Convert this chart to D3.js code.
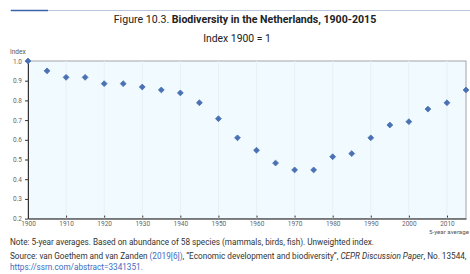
<!DOCTYPE html>
<html><head><meta charset="utf-8">
<script src="https://cdn.jsdelivr.net/npm/d3@7"></script>
<style>body{margin:0;background:#fff;}svg{display:block;font-family:Roboto, "Liberation Sans", sans-serif;}</style>
</head><body><svg id="c" width="470" height="274"></svg>
<script>
const years = [1900,1905,1910,1915,1920,1925,1930,1935,1940,1945,1950,1955,1960,1965,1970,1975,1980,1985,1990,1995,2000,2005,2010,2015];
const values = [1.0,0.95,0.917,0.917,0.885,0.885,0.868,0.853,0.838,0.788,0.707,0.61,0.547,0.482,0.447,0.447,0.514,0.53,0.61,0.675,0.692,0.756,0.788,0.853];
const xTicks = [1900,1910,1920,1930,1940,1950,1960,1970,1980,1990,2000,2010];
const yTicks = [0.2,0.3,0.4,0.5,0.6,0.7,0.8,0.9,1.0];

const svg = d3.select('#c');
const L=28,R=466,T=61,B=218.6;
const x = d3.scaleLinear().domain([1900,2015]).range([L,R]);
const y = d3.scaleLinear().domain([0.2,1.0]).range([B,T]);

// top rule
svg.append('line').attr('x1',10).attr('x2',470).attr('y1',10.5).attr('y2',10.5).attr('stroke','#b9c6dc').attr('stroke-width',1.2);
svg.append('line').attr('x1',11).attr('x2',48).attr('y1',10.5).attr('y2',10.5).attr('stroke','#3b63ad').attr('stroke-width',1.5);

const title = svg.append('text').attr('x',245).attr('y',23).attr('text-anchor','middle').attr('font-size',10.6).attr('fill','#222');
title.append('tspan').text('Figure 10.3. ');
title.append('tspan').attr('font-weight','bold').text('Biodiversity in the Netherlands, 1900-2015');
svg.append('text').attr('x',237).attr('y',42).attr('text-anchor','middle').attr('font-size',10.4).attr('fill','#222').text('Index 1900 = 1');
svg.append('text').attr('x',10).attr('y',54).attr('font-size',6.5).attr('fill','#555').text('Index');

// plot background
svg.append('rect').attr('x',L).attr('y',T).attr('width',R-L).attr('height',B-T).attr('fill','#f1fbff').attr('stroke','#8a8f96').attr('stroke-width',0.8);
// faint verticals
svg.append('g').selectAll('line').data(xTicks.slice(1)).join('line')
  .attr('x1',d=>x(d)).attr('x2',d=>x(d)).attr('y1',T).attr('y2',B).attr('stroke','#e6f0f5').attr('stroke-width',1);

const xa = svg.append('g').attr('transform',`translate(0,${B})`).call(d3.axisBottom(x).tickValues(xTicks).tickFormat(d3.format('d')).tickSize(2).tickSizeOuter(0));
xa.select('.domain').attr('stroke','#333');
xa.selectAll('.tick line').attr('stroke','#333').attr('transform','translate(0,-3)');
xa.selectAll('text').attr('font-size',6.5).attr('fill','#666').attr('font-family','Roboto, sans-serif').attr('dy','0.3em');

const ya = svg.append('g').attr('transform',`translate(${L},0)`).call(d3.axisLeft(y).tickValues(yTicks).tickFormat(d3.format('.1f')).tickSize(3).tickSizeOuter(0));
ya.select('.domain').attr('stroke','#333');
ya.selectAll('.tick line').attr('stroke','#333');
ya.selectAll('text').attr('font-size',6.5).attr('fill','#666').attr('font-family','Roboto, sans-serif').attr('x',-6);

svg.append('text').attr('x',469).attr('y',234).attr('text-anchor','end').attr('font-size',6.2).attr('fill','#555').text('5-year average');

svg.append('g').selectAll('path').data(years.map((d,i)=>[d,values[i]])).join('path')
  .attr('d',d3.symbol().type(d3.symbolSquare).size(17))
  .attr('transform',d=>`translate(${x(d[0])},${y(d[1])}) rotate(45)`)
  .attr('fill','#4a71b3').attr('stroke','#4a71b3').attr('stroke-width',0.8).attr('stroke-linejoin','round');

svg.append('text').attr('x',10).attr('y',245).attr('font-size',8.2).attr('fill','#333').text('Note: 5-year averages. Based on abundance of 58 species (mammals, birds, fish). Unweighted index.');
const s = svg.append('text').attr('x',10).attr('y',259).attr('font-size',8.2).attr('fill','#333');
s.append('tspan').text('Source: van Goethem and van Zanden ');
s.append('tspan').attr('fill','#3d6bbf').text('(2019[6])');
s.append('tspan').text(', “Economic development and biodiversity”, ');
s.append('tspan').attr('font-style','italic').text('CEPR Discussion Paper');
s.append('tspan').text(', No. 13544,');
svg.append('text').attr('x',10).attr('y',270).attr('font-size',8.2).attr('fill','#3d6bbf').text('https://ssrn.com/abstract=3341351.');
</script></body></html>
